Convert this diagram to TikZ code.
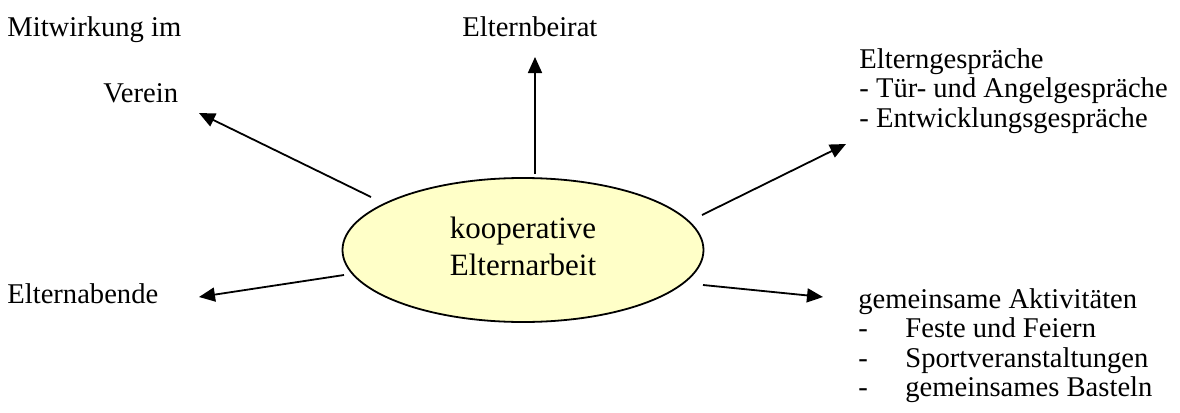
\documentclass[tikz,border=0pt]{standalone}
\usepackage{fontspec}
\setmainfont{Liberation Serif}
\usetikzlibrary{shapes.geometric,arrows.meta}
\definecolor{ellfill}{HTML}{FFFFC8}
\begin{document}
\begin{tikzpicture}[x=0.5pt,y=-0.5pt,
  lbl/.style={anchor=base west, inner sep=0pt, font=\fontsize{14.3pt}{14.75pt}\selectfont},
  conn/.style={line width=0.9pt, -{Triangle[length=8pt,width=7pt]}},
  ell/.style={ellipse, draw, line width=0.9pt, fill=ellfill, minimum width=180.5pt,
    minimum height=72pt, inner sep=0pt, align=center,
    font=\fontsize{15.5pt}{18.5pt}\selectfont}]
\useasboundingbox (0,0) rectangle (1180,413);
\node[ell] (ell) at (523,250) {kooperative\\Elternarbeit\vphantom{g}};
% labels
\node[lbl] (mit) at (7,36) {Mitwirkung im};
\node[lbl] (ver) at (103,102) {Verein};
\node[lbl] (beir) at (462,36) {Elternbeirat};
\node[lbl] (eg1) at (859,68) {Elterngespräche};
\node[lbl] (eg2) at (859,97.5) {- Tür- und Angelgespräche};
\node[lbl] (eg3) at (859,127) {- Entwicklungsgespräche};
\node[lbl] (ea) at (7,303) {Elternabende};
\node[lbl] (ga) at (858,308) {gemeinsame Aktivitäten};
\node[lbl] (gd1) at (858,337.5) {-};
\node[lbl] (g1) at (905,337.5) {Feste und Feiern};
\node[lbl] (gd2) at (858,367) {-};
\node[lbl] (g2) at (905,367) {Sportveranstaltungen};
\node[lbl] (gd3) at (858,396.5) {-};
\node[lbl] (g3) at (905,396.5) {gemeinsames Basteln};
% arrow ends
\coordinate (s1) at (535,174); \coordinate (t1) at (535,57);
\coordinate (s2) at (371,197); \coordinate (t2) at (199,113);
\coordinate (s3) at (702,215); \coordinate (t3) at (846,144);
\coordinate (s4) at (344,275); \coordinate (t4) at (199,297);
\coordinate (s5) at (703,285); \coordinate (t5) at (823,297);
\draw[conn] (s1) -- (t1);
\draw[conn] (s2) -- (t2);
\draw[conn] (s3) -- (t3);
\draw[conn] (s4) -- (t4);
\draw[conn] (s5) -- (t5);
\end{tikzpicture}
\end{document}
